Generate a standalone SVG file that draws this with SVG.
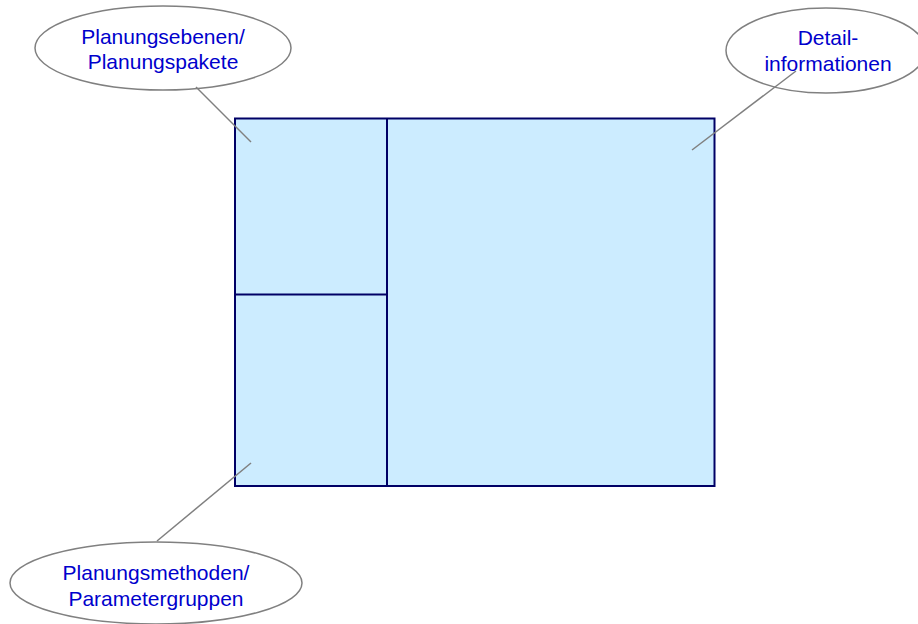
<svg xmlns="http://www.w3.org/2000/svg" width="918" height="624" viewBox="0 0 918 624">
  <style>
    .panel { fill: #CCECFF; stroke: #000066; stroke-width: 2; }
    .divider { stroke: #000066; stroke-width: 2; fill: none; }
    .bubble { fill: #FFFFFF; stroke: #808080; stroke-width: 1.5; }
    .lead { stroke: #808080; stroke-width: 1.5; fill: none; }
    .label { font-family: "Liberation Sans", Arial, sans-serif; font-size: 21px; fill: #0000CC; text-anchor: middle; }
  </style>
  <rect width="918" height="624" fill="#FFFFFF"/>

  <!-- screen layout -->
  <g id="layout">
    <rect class="panel" x="235" y="118.5" width="479.5" height="367.5"/>
    <line class="divider" x1="387" y1="118.5" x2="387" y2="486"/>
    <line class="divider" x1="235" y1="294.5" x2="387" y2="294.5"/>
  </g>

  <g id="node-planungsebenen">
    <ellipse class="bubble" cx="163" cy="48" rx="128" ry="42"/>
    <text class="label" x="163" y="44">Planungsebenen/</text>
    <text class="label" x="163" y="69">Planungspakete</text>
  </g>

  <g id="node-detail">
    <ellipse class="bubble" cx="826" cy="50.5" rx="100" ry="42.5"/>
    <text class="label" x="828" y="45">Detail-</text>
    <text class="label" x="828" y="71">informationen</text>
  </g>

  <g id="node-methoden">
    <ellipse class="bubble" cx="156" cy="583" rx="146" ry="41"/>
    <text class="label" x="156" y="580">Planungsmethoden/</text>
    <text class="label" x="156" y="606">Parametergruppen</text>
  </g>

  <!-- leader lines, drawn over the bubbles -->
  <g id="connectors">
    <line class="lead" x1="196" y1="87" x2="251" y2="142"/>
    <line class="lead" x1="796" y1="71" x2="692" y2="150"/>
    <line class="lead" x1="157" y1="541" x2="251" y2="463"/>
  </g>
</svg>
